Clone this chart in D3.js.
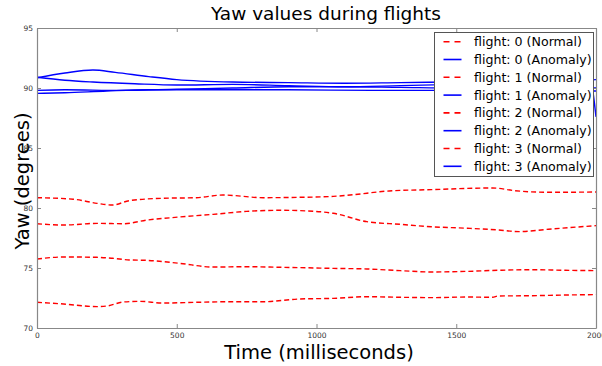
<!DOCTYPE html>
<html>
<head>
<meta charset="utf-8">
<script src="https://cdn.jsdelivr.net/npm/d3@7"></script>
<style>
  body { margin: 0; background: #fff; }
  svg { font-family: "DejaVu Sans", sans-serif; }
</style>
</head>
<body>
<div id="chart"></div>
<script>
// time stamps (ms) and yaw values (degrees)
const normalT = [
  [0, 130, 215, 270, 330, 450, 570, 665, 810, 940, 1060, 1120, 1260, 1410, 1630, 1710, 1830, 2000],
  [0, 95, 215, 310, 395, 510, 630, 750, 870, 940, 1060, 1180, 1300, 1410, 1540, 1650, 1725, 1830, 2000],
  [0, 95, 215, 270, 330, 390, 510, 630, 750, 870, 940, 1060, 1180, 1300, 1410, 1540, 1650, 1770, 1890, 2000],
  [0, 95, 215, 250, 310, 370, 450, 570, 690, 810, 940, 1060, 1180, 1300, 1410, 1540, 1630, 1650, 1770, 1890, 2000]
]
const normalYaw = [
  [80.86, 80.73, 80.39, 80.25, 80.61, 80.81, 80.86, 81.08, 80.86, 80.89, 80.97, 81.08, 81.42, 81.53, 81.67, 81.44, 81.31, 81.33],
  [78.69, 78.58, 78.72, 78.69, 79.0, 79.25, 79.47, 79.72, 79.81, 79.78, 79.56, 78.86, 78.64, 78.44, 78.31, 78.17, 78.03, 78.23, 78.53],
  [75.75, 75.92, 75.89, 75.81, 75.67, 75.64, 75.39, 75.08, 75.11, 75.06, 75.03, 74.97, 74.92, 74.78, 74.67, 74.72, 74.81, 74.86, 74.81, 74.78],
  [72.14, 72.0, 71.78, 71.83, 72.17, 72.22, 72.08, 72.14, 72.19, 72.19, 72.42, 72.47, 72.61, 72.56, 72.53, 72.58, 72.56, 72.67, 72.69, 72.75, 72.78]
]
const anomalyT = [
  [0, 100, 200, 280, 400, 500, 700, 900, 1100, 1300, 1500, 1700, 1900, 2000],
  [0, 100, 200, 350, 500, 700, 900, 1100, 1300, 1500, 1800, 1980, 2000],
  [0, 100, 300, 500, 700, 900, 1100, 1300, 1500, 1800, 2000],
  [0, 100, 250, 400, 600, 900, 1200, 1500, 1800, 2000]
]
const anomalyYaw = [
  [90.85, 91.25, 91.5, 91.3, 90.95, 90.7, 90.5, 90.45, 90.4, 90.45, 90.5, 90.55, 90.6, 90.7],
  [90.9, 90.65, 90.5, 90.35, 90.25, 90.3, 90.2, 90.1, 90.2, 90.3, 90.4, 90.4, 87.6],
  [89.8, 89.85, 89.8, 89.9, 90.0, 90.1, 90.1, 90.05, 90.0, 90.0, 90.0],
  [89.55, 89.6, 89.75, 89.85, 89.85, 89.85, 89.8, 89.8, 89.78, 89.75]
]
const flights = [0, 1, 2, 3]
const xTicks = [0, 500, 1000, 1500, 2000]
const yTicks = [70, 75, 80, 85, 90, 95]

const W = 602, H = 366
const MARGIN = { LEFT: 37, RIGHT: 6, TOP: 28, BOTTOM: 38 }
const width = W - MARGIN.LEFT - MARGIN.RIGHT
const height = H - MARGIN.TOP - MARGIN.BOTTOM

const svg = d3.select("#chart").append("svg")
  .attr("width", W)
  .attr("height", H)

const g = svg.append("g")
  .attr("transform", `translate(${MARGIN.LEFT},${MARGIN.TOP})`)

const x = d3.scaleLinear().domain([0, 2000]).range([0, width])
const y = d3.scaleLinear().domain([70, 95]).range([height, 0])

g.append("clipPath").attr("id", "clip")
  .append("rect").attr("width", width).attr("height", height)

const line = d3.line()
  .x(d => x(d[0]))
  .y(d => y(d[1]))
  .curve(d3.curveMonotoneX)

const plot = g.append("g").attr("clip-path", "url(#clip)")

// anomaly flights (blue, solid)
flights.forEach(i => {
  plot.append("path")
    .datum(anomalyT[i].map((t, j) => [t, anomalyYaw[i][j]]))
    .attr("fill", "none")
    .attr("stroke", "#0000ff")
    .attr("stroke-width", 1.4)
    .attr("d", line)
})

// normal flights (red, dashed)
flights.forEach(i => {
  plot.append("path")
    .datum(normalT[i].map((t, j) => [t, normalYaw[i][j]]))
    .attr("fill", "none")
    .attr("stroke", "#ff0000")
    .attr("stroke-width", 1.4)
    .attr("stroke-dasharray", "5,3")
    .attr("d", line)
})

// axes, classic matplotlib look: ticks inward on all four sides
const axisColor = "#888"
const tickSize = 4
const fmt = d3.format("d")
const xB = g.append("g").attr("transform", `translate(0,${height})`)
  .call(d3.axisBottom(x).tickValues(xTicks).tickFormat(fmt).tickSizeInner(-tickSize).tickSizeOuter(0).tickPadding(5))
const xT = g.append("g")
  .call(d3.axisTop(x).tickValues(xTicks).tickSizeInner(-tickSize).tickSizeOuter(0).tickFormat(""))
const yL = g.append("g")
  .call(d3.axisLeft(y).tickValues(yTicks).tickFormat(fmt).tickSizeInner(-tickSize).tickSizeOuter(0).tickPadding(4))
const yR = g.append("g").attr("transform", `translate(${width},0)`)
  .call(d3.axisRight(y).tickValues(yTicks).tickSizeInner(-tickSize).tickSizeOuter(0).tickFormat(""))

;[xB, xT, yL, yR].forEach(a => {
  a.select(".domain").attr("stroke", axisColor).attr("stroke-width", 1.2)
  a.selectAll(".tick line").attr("stroke", axisColor)
  a.selectAll(".tick text")
    .attr("fill", "#333")
    .attr("font-size", "7.5px")
    .attr("font-family", "DejaVu Sans")
})
xB.selectAll(".tick text").attr("dy", "0.6em")

// titles
svg.append("text")
  .attr("x", 326).attr("y", 20)
  .attr("text-anchor", "middle")
  .attr("font-size", "18.5px")
  .attr("fill", "#000")
  .text("Yaw values during flights")

svg.append("text")
  .attr("x", 319).attr("y", 359)
  .attr("text-anchor", "middle")
  .attr("font-size", "19.5px")
  .attr("fill", "#000")
  .text("Time (milliseconds)")

svg.append("text")
  .attr("transform", "translate(29,181) rotate(-90)")
  .attr("text-anchor", "middle")
  .attr("font-size", "19.5px")
  .attr("fill", "#000")
  .text("Yaw (degrees)")

// legend
const legendItems = []
flights.forEach(i => {
  legendItems.push({ label: `flight: ${i} (Normal)`, normal: true })
  legendItems.push({ label: `flight: ${i} (Anomaly)`, normal: false })
})

const legend = svg.append("g").attr("transform", "translate(434.5,32.5)")
legend.append("rect")
  .attr("width", 159)
  .attr("height", 144)
  .attr("fill", "#fff")
  .attr("stroke", "#555")
  .attr("stroke-width", 1)

const rows = legend.selectAll(".row")
  .data(legendItems)
  .enter().append("g")
  .attr("transform", (d, i) => `translate(0,${9.2 + i * 17.8})`)

rows.append("line")
  .attr("x1", 9).attr("x2", 27)
  .attr("stroke", d => d.normal ? "#ff0000" : "#0000ff")
  .attr("stroke-width", 1.6)
  .attr("stroke-dasharray", d => d.normal ? "6,5" : null)

rows.append("text")
  .attr("x", 39.5)
  .attr("dy", "0.35em")
  .attr("font-size", "12.6px")
  .attr("fill", "#000")
  .text(d => d.label)
</script>
</body>
</html>
